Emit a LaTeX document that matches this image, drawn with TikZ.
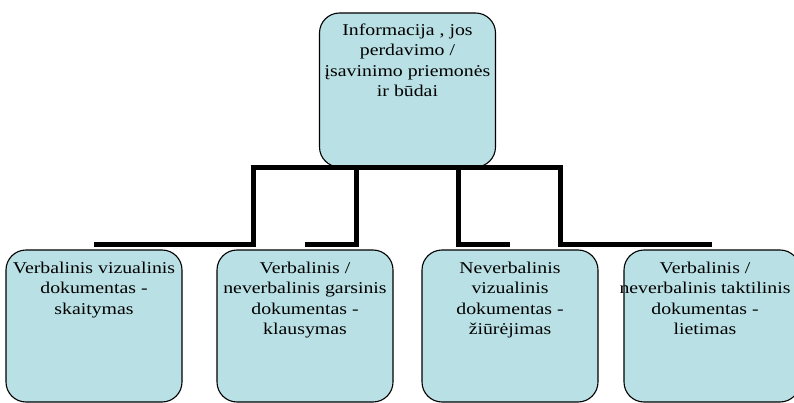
\documentclass[tikz,border=0pt]{standalone}
\usepackage{fontspec}
\setmainfont[FakeStretch=1.2]{Liberation Serif}
\definecolor{boxblue}{HTML}{B9E0E4}

\begin{document}
\begin{tikzpicture} [x=1pt,y=-1pt,
	box/.style={draw=black,line width=1.1pt,fill=boxblue,rounded corners=20pt,minimum width=176pt,inner sep=0pt},
	txt/.style={align=center,anchor=north,inner sep=0pt,font=\fontsize{16.5}{20.5}\selectfont},
	link/.style={line width=5pt,line join=miter}]
			\useasboundingbox (0,0) rectangle (794,403);
			\clip (0,0) rectangle (794,403);
			
			\node[box,minimum height=154pt] (top) at (407.5,90) {};
			\node[txt] (ttop) at ([yshift=-11pt]top.north) {Informacija , jos\\perdavimo /\\įsavinimo priemonės\\ir būdai};
			
			\foreach \i/\cx/\dx/\txt in {1/94/0/{Verbalinis vizualinis\\dokumentas -\\skaitymas},
				2/305/0/{Verbalinis /\\neverbalinis garsinis\\dokumentas -\\klausymas},
				3/510/0/{Neverbalinis\\vizualinis\\dokumentas -\\žiūrėjimas},
				4/712/-7/{Verbalinis /\\neverbalinis taktilinis\\dokumentas -\\lietimas}}
			{
			\node[box,minimum height=152pt] (b\i) at (\cx,326) {};
			\node[txt] (t\i) at ([xshift=\dx pt,yshift=-12pt]b\i.north) {\txt};
			}
			
			\coordinate (v1) at (253,167.5);
			\coordinate (v2) at (356,167.5);
			\coordinate (v3) at (458,167.5);
			\coordinate (v4) at (560,167.5);
			
			\draw[link] ([xshift=-2.5pt]v1) -- ([xshift=2.5pt]v4);
			\foreach \i in {1,2,3,4}
			\draw[link] (v\i) |- ([yshift=5pt]b\i.north);
			\end{tikzpicture}
\end{document}
